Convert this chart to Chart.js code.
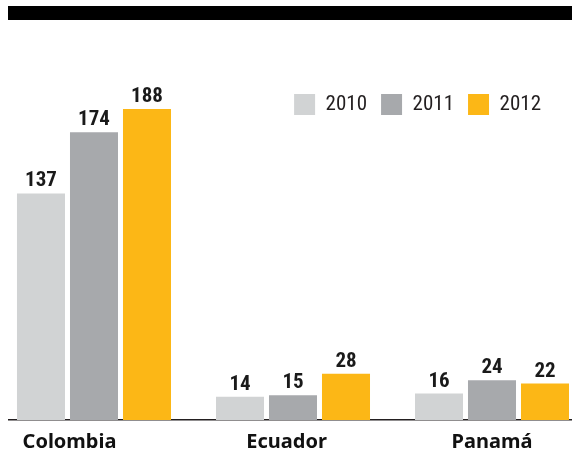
<!DOCTYPE html>
<html>
<head>
<meta charset="utf-8">
<script src="https://cdn.jsdelivr.net/npm/chart.js@4"></script>
<style>
  html, body { margin: 0; padding: 0; background: #fff; }
  #wrap { position: relative; width: 572px; height: 452px; }
  #topbar { position: absolute; left: 8px; right: 0; top: 6px; height: 14px; background: #000; }
</style>
</head>
<body>
<div id="wrap">
  <canvas id="chart" width="572" height="452"></canvas>
  <div id="topbar"></div>
</div>
<script>
const countries = ['Colombia', 'Ecuador', 'Panamá'];
const years = ['2010', '2011', '2012'];
const values2010 = [137, 14, 16];
const values2011 = [174, 15, 24];
const values2012 = [188, 28, 22];
const yearColors = ['#d1d3d4', '#a7a9ac', '#fcb716'];

// where the country names sit on the x axis (group index units)
const countryLabelPos = [-0.123, 0.968, 2.0];

const numFont = '"Roboto Condensed", Roboto, "Liberation Sans", sans-serif';
const nameFont = '"Noto Sans", "Liberation Sans", Arial, sans-serif';

const toPoints = arr => arr.map((v, i) => ({x: i, y: v}));

const barLabels = {
  id: 'barLabels',
  beforeLayout(chart) {
    // legend floats inside the plot instead of taking its own row
    const lg = chart.legend;
    if (lg && !lg._patched) {
      const fit = lg.fit;
      lg.fit = function() {
        fit.call(this);
        this.height = 0;
        this.lineWidths = this.lineWidths.map(w => w + 17);
      };
      lg.draw = function() {
        if (this.options.display) this._draw();
      };
      lg._patched = true;
    }
  },
  // bold numbers above each bar
  afterDatasetsDraw(chart) {
    const ctx = chart.ctx;
    ctx.save();
    ctx.font = 'bold 21px ' + numFont;
    ctx.fillStyle = '#1a1a1a';
    ctx.textAlign = 'center';
    ctx.textBaseline = 'alphabetic';
    chart.data.datasets.forEach((ds, i) => {
      chart.getDatasetMeta(i).data.forEach((bar, j) => {
        ctx.fillText(ds.data[j].y, bar.x, bar.y - 7);
      });
    });
    ctx.restore();
  }
};

const allSeries = [values2010, values2011, values2012];

new Chart(document.getElementById('chart'), {
  type: 'bar',
  data: {
    datasets: allSeries.map((vals, i) => ({
      label: years[i],
      data: toPoints(vals),
      backgroundColor: yearColors[i],
      borderWidth: 0,
      categoryPercentage: 0.799,
      barPercentage: 0.906,
      clip: false
    }))
  },
  options: {
    responsive: false,
    animation: false,
    layout: { padding: { top: 80, left: 9, right: 0, bottom: -12 } },
    scales: {
      x: {
        type: 'linear',
        offset: false,
        min: -0.4271,
        max: 2.402,
        grid: { display: false, drawTicks: false, offset: false },
        border: { display: true, color: '#231f20', width: 1.5 },
        afterBuildTicks: axis => {
          axis.ticks = countryLabelPos.map(v => ({value: v}));
        },
        ticks: {
          autoSkip: false,
          maxRotation: 0,
          padding: 12,
          color: '#111',
          font: { family: nameFont, size: 20, weight: 'bold', lineHeight: 1 },
          callback: (value, index) => countries[index]
        }
      },
      y: {
        display: false,
        min: 0,
        max: 205.6
      }
    },
    plugins: {
      tooltip: { enabled: false },
      legend: {
        position: 'top',
        align: 'end',
        labels: {
          boxWidth: 21,
          boxHeight: 21,
          padding: 14,
          color: '#231f20',
          font: { family: numFont, size: 21 }
        }
      }
    }
  },
  plugins: [barLabels]
});
</script>
</body>
</html>
